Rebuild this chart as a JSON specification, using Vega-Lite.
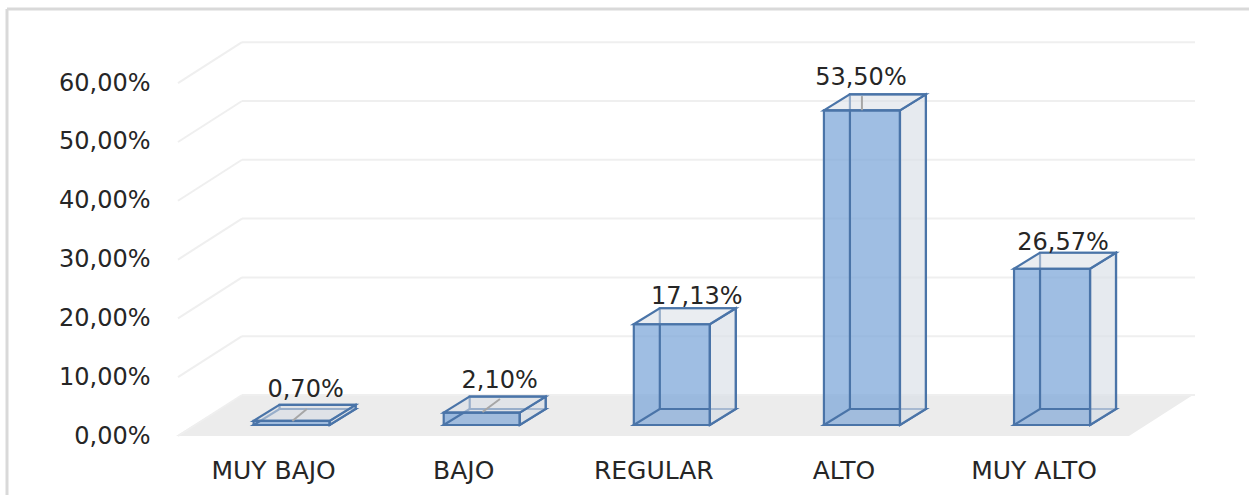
{"$schema":"https://vega.github.io/schema/vega-lite/v6.json","width":1019,"height":394,"autosize":"none","padding":{"left":176,"top":42,"right":54,"bottom":59},"background":"white","view":{"stroke":null},"config":{"font":"DejaVu Sans"},
"datasets":{
"frame":[{"part":"frame"}],
"bars":[{"category":"MUY BAJO","value":0.7,"label":"0,70%"},{"category":"BAJO","value":2.1,"label":"2,10%"},{"category":"REGULAR","value":17.13,"label":"17,13%"},{"category":"ALTO","value":53.5,"label":"53,50%"},{"category":"MUY ALTO","value":26.57,"label":"26,57%"}],
"ticks":[{"tick":0},{"tick":10},{"tick":20},{"tick":30},{"tick":40},{"tick":50},{"tick":60}],
"side":[{"category":"MUY BAJO","corner":0.5,"low":0,"high":0.7},{"category":"MUY BAJO","corner":0.84,"low":2.72,"high":3.42},{"category":"BAJO","corner":0.5,"low":0,"high":2.1},{"category":"BAJO","corner":0.84,"low":2.72,"high":4.82},{"category":"REGULAR","corner":0.5,"low":0,"high":17.13},{"category":"REGULAR","corner":0.84,"low":2.72,"high":19.85},{"category":"ALTO","corner":0.5,"low":0,"high":53.5},{"category":"ALTO","corner":0.84,"low":2.72,"high":56.22},{"category":"MUY ALTO","corner":0.5,"low":0,"high":26.57},{"category":"MUY ALTO","corner":0.84,"low":2.72,"high":29.29}],
"top":[{"category":"MUY BAJO","corner":-0.5,"low":0.7,"high":0.7},{"category":"MUY BAJO","corner":-0.16,"low":0.7,"high":3.42},{"category":"MUY BAJO","corner":0.5,"low":0.7,"high":3.42},{"category":"MUY BAJO","corner":0.84,"low":3.42,"high":3.42},{"category":"BAJO","corner":-0.5,"low":2.1,"high":2.1},{"category":"BAJO","corner":-0.16,"low":2.1,"high":4.82},{"category":"BAJO","corner":0.5,"low":2.1,"high":4.82},{"category":"BAJO","corner":0.84,"low":4.82,"high":4.82},{"category":"REGULAR","corner":-0.5,"low":17.13,"high":17.13},{"category":"REGULAR","corner":-0.16,"low":17.13,"high":19.85},{"category":"REGULAR","corner":0.5,"low":17.13,"high":19.85},{"category":"REGULAR","corner":0.84,"low":19.85,"high":19.85},{"category":"ALTO","corner":-0.5,"low":53.5,"high":53.5},{"category":"ALTO","corner":-0.16,"low":53.5,"high":56.22},{"category":"ALTO","corner":0.5,"low":53.5,"high":56.22},{"category":"ALTO","corner":0.84,"low":56.22,"high":56.22},{"category":"MUY ALTO","corner":-0.5,"low":26.57,"high":26.57},{"category":"MUY ALTO","corner":-0.16,"low":26.57,"high":29.29},{"category":"MUY ALTO","corner":0.5,"low":26.57,"high":29.29},{"category":"MUY ALTO","corner":0.84,"low":29.29,"high":29.29}],
"bottom":[{"category":"MUY BAJO","corner":-0.5,"low":0,"high":0},{"category":"MUY BAJO","corner":-0.16,"low":0,"high":2.72},{"category":"MUY BAJO","corner":0.5,"low":0,"high":2.72},{"category":"MUY BAJO","corner":0.84,"low":2.72,"high":2.72},{"category":"BAJO","corner":-0.5,"low":0,"high":0},{"category":"BAJO","corner":-0.16,"low":0,"high":2.72},{"category":"BAJO","corner":0.5,"low":0,"high":2.72},{"category":"BAJO","corner":0.84,"low":2.72,"high":2.72},{"category":"REGULAR","corner":-0.5,"low":0,"high":0},{"category":"REGULAR","corner":-0.16,"low":0,"high":2.72},{"category":"REGULAR","corner":0.5,"low":0,"high":2.72},{"category":"REGULAR","corner":0.84,"low":2.72,"high":2.72},{"category":"ALTO","corner":-0.5,"low":0,"high":0},{"category":"ALTO","corner":-0.16,"low":0,"high":2.72},{"category":"ALTO","corner":0.5,"low":0,"high":2.72},{"category":"ALTO","corner":0.84,"low":2.72,"high":2.72},{"category":"MUY ALTO","corner":-0.5,"low":0,"high":0},{"category":"MUY ALTO","corner":-0.16,"low":0,"high":2.72},{"category":"MUY ALTO","corner":0.5,"low":0,"high":2.72},{"category":"MUY ALTO","corner":0.84,"low":2.72,"high":2.72}],
"leaders":[{"category":"MUY BAJO","corner":0.01,"high":2.55},{"category":"MUY BAJO","corner":0.2,"high":4.6},{"category":"BAJO","corner":0.01,"high":4.08},{"category":"BAJO","corner":0.24,"high":6.29},{"category":"ALTO","corner":0,"high":55.4},{"category":"ALTO","corner":0,"high":57.8}],
"floor":[{"px":176,"low":0,"high":0},{"px":242,"low":0,"high":6.97},{"px":1129,"low":0,"high":6.97},{"px":1193,"low":6.97,"high":6.97}]
},
"resolve":{"scale":{"x":"independent","xOffset":"independent"},"axis":{"x":"independent"}},
"layer":[
{"data":{"name":"floor"},"mark":{"type":"area","color":"#ECECEC","clip":false},"encoding":{"x":{"field":"px","type":"quantitative","axis":null,"scale":{"domain":[176,1195],"nice":false,"zero":false}},"y":{"field":"high","type":"quantitative","scale":{"domain":[0,67],"nice":false},"axis":{"values":[0,10,20,30,40,50,60],"title":null,"domain":false,"ticks":false,"grid":false,"labelExpr":"replace(format(datum.value,'.2f'),'.',',')+'%'","labelFontSize":24,"labelColor":"#262626","labelPadding":26,"labelFont":"DejaVu Sans"}},"y2":{"field":"low"}}},
{"data":{"name":"ticks"},"mark":{"type":"rule","color":"#EFEFEF","strokeWidth":2,"yOffset":-41,"clip":false},"encoding":{"x":{"datum":242,"type":"quantitative","axis":null,"scale":{"domain":[176,1195],"nice":false,"zero":false}},"x2":{"datum":1195},"y":{"field":"tick","type":"quantitative"}}},
{"data":{"name":"ticks"},"mark":{"type":"rule","color":"#EFEFEF","strokeWidth":2,"y2Offset":-41,"clip":false},"encoding":{"x":{"datum":178,"type":"quantitative","axis":null,"scale":{"domain":[176,1195],"nice":false,"zero":false}},"x2":{"datum":242},"y":{"field":"tick","type":"quantitative"},"y2":{"field":"tick"}}},
{"data":{"name":"frame"},"mark":{"type":"rule","color":"#D9D9D9","strokeWidth":3,"clip":false},"encoding":{"x":{"datum":7,"type":"quantitative","axis":null,"scale":{"domain":[176,1195],"nice":false,"zero":false}},"x2":{"datum":1249},"y":{"datum":72.6,"type":"quantitative"}}},
{"data":{"name":"frame"},"mark":{"type":"rule","color":"#D9D9D9","strokeWidth":3,"clip":false},"encoding":{"x":{"datum":7,"type":"quantitative","axis":null,"scale":{"domain":[176,1195],"nice":false,"zero":false}},"y":{"datum":72.6,"type":"quantitative"},"y2":{"datum":-10.2}}},
{"data":{"name":"bars"},"mark":{"type":"bar","size":76,"color":"#7FA8DA","opacity":0.75,"yOffset":-11,"y2Offset":-11},"encoding":{"x":{"field":"category","type":"nominal","sort":null,"title":null,"scale":{"type":"band","domain":["MUY BAJO","BAJO","REGULAR","ALTO","MUY ALTO"],"paddingInner":0,"paddingOuter":0.18,"align":0.3},"axis":{"title":null,"domain":false,"ticks":false,"labelAngle":0,"labelFontSize":25,"labelColor":"#262626","labelOffset":-18,"labelPadding":22,"labelFont":"DejaVu Sans"}},"y":{"field":"value","type":"quantitative","stack":null},"y2":{"datum":0}}},
{"data":{"name":"bottom"},"mark":{"type":"area","color":"#C9CFD9","fillOpacity":0.15,"stroke":"#4A74A8","strokeWidth":2.2,"yOffset":-11,"y2Offset":-11},"encoding":{"x":{"field":"category","type":"nominal","axis":null,"sort":null,"scale":{"type":"band","domain":["MUY BAJO","BAJO","REGULAR","ALTO","MUY ALTO"],"paddingInner":0,"paddingOuter":0.18,"align":0.3}},"xOffset":{"field":"corner","type":"quantitative","scale":{"domain":[-0.5,0.84],"range":[57,159]}},"y":{"field":"high","type":"quantitative"},"y2":{"field":"low"},"detail":{"field":"category"}}},
{"data":{"name":"bars"},"mark":{"type":"bar","size":76,"filled":false,"stroke":"#4A74A8","strokeWidth":2.2,"xOffset":26,"x2Offset":26,"yOffset":-27,"y2Offset":-27},"encoding":{"x":{"field":"category","type":"nominal","sort":null,"axis":null,"scale":{"type":"band","domain":["MUY BAJO","BAJO","REGULAR","ALTO","MUY ALTO"],"paddingInner":0,"paddingOuter":0.18,"align":0.3}},"y":{"field":"value","type":"quantitative","stack":null},"y2":{"datum":0}}},
{"data":{"name":"side"},"mark":{"type":"area","color":"#D9DEE6","fillOpacity":0.65,"stroke":"#4A74A8","strokeWidth":2.2,"yOffset":-11,"y2Offset":-11},"encoding":{"x":{"field":"category","type":"nominal","axis":null,"sort":null,"scale":{"type":"band","domain":["MUY BAJO","BAJO","REGULAR","ALTO","MUY ALTO"],"paddingInner":0,"paddingOuter":0.18,"align":0.3}},"xOffset":{"field":"corner","type":"quantitative","scale":{"domain":[-0.5,0.84],"range":[57,159]}},"y":{"field":"high","type":"quantitative"},"y2":{"field":"low"},"detail":{"field":"category"}}},
{"data":{"name":"top"},"mark":{"type":"area","color":"#D9DEE6","fillOpacity":0.55,"stroke":"#4A74A8","strokeWidth":2.2,"yOffset":-11,"y2Offset":-11},"encoding":{"x":{"field":"category","type":"nominal","axis":null,"sort":null,"scale":{"type":"band","domain":["MUY BAJO","BAJO","REGULAR","ALTO","MUY ALTO"],"paddingInner":0,"paddingOuter":0.18,"align":0.3}},"xOffset":{"field":"corner","type":"quantitative","scale":{"domain":[-0.5,0.84],"range":[57,159]}},"y":{"field":"high","type":"quantitative"},"y2":{"field":"low"},"detail":{"field":"category"}}},
{"data":{"name":"bars"},"mark":{"type":"bar","size":76,"filled":false,"stroke":"#4A74A8","strokeWidth":2.2,"yOffset":-11,"y2Offset":-11},"encoding":{"x":{"field":"category","type":"nominal","sort":null,"axis":null,"scale":{"type":"band","domain":["MUY BAJO","BAJO","REGULAR","ALTO","MUY ALTO"],"paddingInner":0,"paddingOuter":0.18,"align":0.3}},"y":{"field":"value","type":"quantitative","stack":null},"y2":{"datum":0}}},
{"data":{"name":"leaders"},"mark":{"type":"line","color":"#A6A6A6","strokeWidth":2},"encoding":{"x":{"field":"category","type":"nominal","axis":null,"sort":null,"scale":{"type":"band","domain":["MUY BAJO","BAJO","REGULAR","ALTO","MUY ALTO"],"paddingInner":0,"paddingOuter":0.18,"align":0.3}},"xOffset":{"field":"corner","type":"quantitative","scale":{"domain":[-0.5,0.84],"range":[57,159]}},"y":{"field":"high","type":"quantitative"},"detail":{"field":"category"}}},
{"data":{"name":"bars"},"mark":{"type":"text","fontSize":24,"color":"#262626","font":"DejaVu Sans","dx":{"expr":"({'MUY BAJO':14,'BAJO':18,'REGULAR':25,'ALTO':-1,'MUY ALTO':11})[datum.category]"},"dy":{"expr":"({'MUY BAJO':-42,'BAJO':-43,'REGULAR':-38,'ALTO':-43,'MUY ALTO':-37})[datum.category]"}},"encoding":{"x":{"field":"category","type":"nominal","sort":null,"axis":null,"scale":{"type":"band","domain":["MUY BAJO","BAJO","REGULAR","ALTO","MUY ALTO"],"paddingInner":0,"paddingOuter":0.18,"align":0.3}},"y":{"field":"value","type":"quantitative"},"text":{"field":"label"}}}
]}
